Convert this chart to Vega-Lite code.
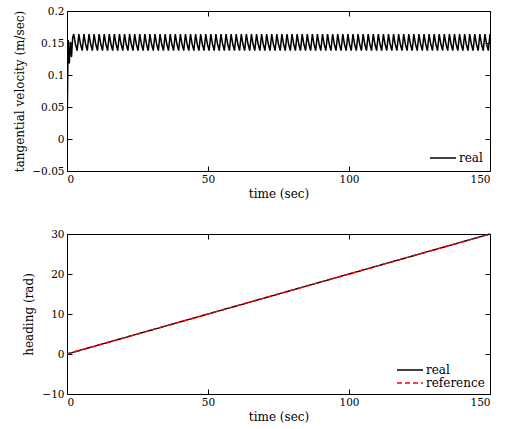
{
  "$schema": "https://vega.github.io/schema/vega-lite/v6.json",
  "background": "white",
  "padding": {"left": 13, "top": 5, "right": 5, "bottom": 5},
  "spacing": 28,
  "config": {
    "font": "DejaVu Serif",
    "view": {"stroke": "black", "strokeWidth": 1},
    "axis": {
      "grid": false,
      "domain": false,
      "tickSize": -5,
      "tickColor": "black",
      "tickWidth": 1,
      "labelFont": "DejaVu Serif",
      "labelFontSize": 10.5,
      "labelColor": "black",
      "labelPadding": 8,
      "titleFont": "DejaVu Serif",
      "titleFontSize": 12,
      "titleFontWeight": "normal",
      "titleColor": "black"
    },
    "legend": {
      "orient": "bottom-right",
      "symbolType": "stroke",
      "symbolSize": 676,
      "symbolStrokeWidth": 1.5,
      "clipHeight": 12,
      "labelFont": "DejaVu Serif",
      "labelFontSize": 12,
      "labelColor": "black",
      "labelOffset": 2,
      "rowPadding": 1,
      "padding": 0
    }
  },
  "vconcat": [
    {
      "width": 423,
      "height": 160,
      "data": {"values": [
        {"t":0,"v":0},{"t":0.4,"v":0.155},{"t":0.8,"v":0.118},{"t":1.2,"v":0.152},{"t":1.6,"v":0.128},{"t":2,"v":0.158},
        {"t":2.4,"v":0.164},{"t":3,"v":0.148},{"t":3.6,"v":0.138},{"t":4.2,"v":0.164},{"t":4.8,"v":0.148},{"t":5.4,"v":0.138},
        {"t":6,"v":0.164},{"t":6.6,"v":0.148},{"t":7.2,"v":0.138},{"t":7.8,"v":0.164},{"t":8.4,"v":0.148},{"t":9,"v":0.138},
        {"t":9.6,"v":0.164},{"t":10.2,"v":0.148},{"t":10.8,"v":0.138},{"t":11.4,"v":0.164},{"t":12,"v":0.148},{"t":12.6,"v":0.138},
        {"t":13.2,"v":0.164},{"t":13.8,"v":0.148},{"t":14.4,"v":0.138},{"t":15,"v":0.164},{"t":15.6,"v":0.148},{"t":16.2,"v":0.138},
        {"t":16.8,"v":0.164},{"t":17.4,"v":0.148},{"t":18,"v":0.138},{"t":18.6,"v":0.164},{"t":19.2,"v":0.148},{"t":19.8,"v":0.138},
        {"t":20.4,"v":0.164},{"t":21,"v":0.148},{"t":21.6,"v":0.138},{"t":22.2,"v":0.164},{"t":22.8,"v":0.148},{"t":23.4,"v":0.138},
        {"t":24,"v":0.164},{"t":24.6,"v":0.148},{"t":25.2,"v":0.138},{"t":25.8,"v":0.164},{"t":26.4,"v":0.148},{"t":27,"v":0.138},
        {"t":27.6,"v":0.164},{"t":28.2,"v":0.148},{"t":28.8,"v":0.138},{"t":29.4,"v":0.164},{"t":30,"v":0.148},{"t":30.6,"v":0.138},
        {"t":31.2,"v":0.164},{"t":31.8,"v":0.148},{"t":32.4,"v":0.138},{"t":33,"v":0.164},{"t":33.6,"v":0.148},{"t":34.2,"v":0.138},
        {"t":34.8,"v":0.164},{"t":35.4,"v":0.148},{"t":36,"v":0.138},{"t":36.6,"v":0.164},{"t":37.2,"v":0.148},{"t":37.8,"v":0.138},
        {"t":38.4,"v":0.164},{"t":39,"v":0.148},{"t":39.6,"v":0.138},{"t":40.2,"v":0.164},{"t":40.8,"v":0.148},{"t":41.4,"v":0.138},
        {"t":42,"v":0.164},{"t":42.6,"v":0.148},{"t":43.2,"v":0.138},{"t":43.8,"v":0.164},{"t":44.4,"v":0.148},{"t":45,"v":0.138},
        {"t":45.6,"v":0.164},{"t":46.2,"v":0.148},{"t":46.8,"v":0.138},{"t":47.4,"v":0.164},{"t":48,"v":0.148},{"t":48.6,"v":0.138},
        {"t":49.2,"v":0.164},{"t":49.8,"v":0.148},{"t":50.4,"v":0.138},{"t":51,"v":0.164},{"t":51.6,"v":0.148},{"t":52.2,"v":0.138},
        {"t":52.8,"v":0.164},{"t":53.4,"v":0.148},{"t":54,"v":0.138},{"t":54.6,"v":0.164},{"t":55.2,"v":0.148},{"t":55.8,"v":0.138},
        {"t":56.4,"v":0.164},{"t":57,"v":0.148},{"t":57.6,"v":0.138},{"t":58.2,"v":0.164},{"t":58.8,"v":0.148},{"t":59.4,"v":0.138},
        {"t":60,"v":0.164},{"t":60.6,"v":0.148},{"t":61.2,"v":0.138},{"t":61.8,"v":0.164},{"t":62.4,"v":0.148},{"t":63,"v":0.138},
        {"t":63.6,"v":0.164},{"t":64.2,"v":0.148},{"t":64.8,"v":0.138},{"t":65.4,"v":0.164},{"t":66,"v":0.148},{"t":66.6,"v":0.138},
        {"t":67.2,"v":0.164},{"t":67.8,"v":0.148},{"t":68.4,"v":0.138},{"t":69,"v":0.164},{"t":69.6,"v":0.148},{"t":70.2,"v":0.138},
        {"t":70.8,"v":0.164},{"t":71.4,"v":0.148},{"t":72,"v":0.138},{"t":72.6,"v":0.164},{"t":73.2,"v":0.148},{"t":73.8,"v":0.138},
        {"t":74.4,"v":0.164},{"t":75,"v":0.148},{"t":75.6,"v":0.138},{"t":76.2,"v":0.164},{"t":76.8,"v":0.148},{"t":77.4,"v":0.138},
        {"t":78,"v":0.164},{"t":78.6,"v":0.148},{"t":79.2,"v":0.138},{"t":79.8,"v":0.164},{"t":80.4,"v":0.148},{"t":81,"v":0.138},
        {"t":81.6,"v":0.164},{"t":82.2,"v":0.148},{"t":82.8,"v":0.138},{"t":83.4,"v":0.164},{"t":84,"v":0.148},{"t":84.6,"v":0.138},
        {"t":85.2,"v":0.164},{"t":85.8,"v":0.148},{"t":86.4,"v":0.138},{"t":87,"v":0.164},{"t":87.6,"v":0.148},{"t":88.2,"v":0.138},
        {"t":88.8,"v":0.164},{"t":89.4,"v":0.148},{"t":90,"v":0.138},{"t":90.6,"v":0.164},{"t":91.2,"v":0.148},{"t":91.8,"v":0.138},
        {"t":92.4,"v":0.164},{"t":93,"v":0.148},{"t":93.6,"v":0.138},{"t":94.2,"v":0.164},{"t":94.8,"v":0.148},{"t":95.4,"v":0.138},
        {"t":96,"v":0.164},{"t":96.6,"v":0.148},{"t":97.2,"v":0.138},{"t":97.8,"v":0.164},{"t":98.4,"v":0.148},{"t":99,"v":0.138},
        {"t":99.6,"v":0.164},{"t":100.2,"v":0.148},{"t":100.8,"v":0.138},{"t":101.4,"v":0.164},{"t":102,"v":0.148},{"t":102.6,"v":0.138},
        {"t":103.2,"v":0.164},{"t":103.8,"v":0.148},{"t":104.4,"v":0.138},{"t":105,"v":0.164},{"t":105.6,"v":0.148},{"t":106.2,"v":0.138},
        {"t":106.8,"v":0.164},{"t":107.4,"v":0.148},{"t":108,"v":0.138},{"t":108.6,"v":0.164},{"t":109.2,"v":0.148},{"t":109.8,"v":0.138},
        {"t":110.4,"v":0.164},{"t":111,"v":0.148},{"t":111.6,"v":0.138},{"t":112.2,"v":0.164},{"t":112.8,"v":0.148},{"t":113.4,"v":0.138},
        {"t":114,"v":0.164},{"t":114.6,"v":0.148},{"t":115.2,"v":0.138},{"t":115.8,"v":0.164},{"t":116.4,"v":0.148},{"t":117,"v":0.138},
        {"t":117.6,"v":0.164},{"t":118.2,"v":0.148},{"t":118.8,"v":0.138},{"t":119.4,"v":0.164},{"t":120,"v":0.148},{"t":120.6,"v":0.138},
        {"t":121.2,"v":0.164},{"t":121.8,"v":0.148},{"t":122.4,"v":0.138},{"t":123,"v":0.164},{"t":123.6,"v":0.148},{"t":124.2,"v":0.138},
        {"t":124.8,"v":0.164},{"t":125.4,"v":0.148},{"t":126,"v":0.138},{"t":126.6,"v":0.164},{"t":127.2,"v":0.148},{"t":127.8,"v":0.138},
        {"t":128.4,"v":0.164},{"t":129,"v":0.148},{"t":129.6,"v":0.138},{"t":130.2,"v":0.164},{"t":130.8,"v":0.148},{"t":131.4,"v":0.138},
        {"t":132,"v":0.164},{"t":132.6,"v":0.148},{"t":133.2,"v":0.138},{"t":133.8,"v":0.164},{"t":134.4,"v":0.148},{"t":135,"v":0.138},
        {"t":135.6,"v":0.164},{"t":136.2,"v":0.148},{"t":136.8,"v":0.138},{"t":137.4,"v":0.164},{"t":138,"v":0.148},{"t":138.6,"v":0.138},
        {"t":139.2,"v":0.164},{"t":139.8,"v":0.148},{"t":140.4,"v":0.138},{"t":141,"v":0.164},{"t":141.6,"v":0.148},{"t":142.2,"v":0.138},
        {"t":142.8,"v":0.164},{"t":143.4,"v":0.148},{"t":144,"v":0.138},{"t":144.6,"v":0.164},{"t":145.2,"v":0.148},{"t":145.8,"v":0.138},
        {"t":146.4,"v":0.164},{"t":147,"v":0.148},{"t":147.6,"v":0.138},{"t":148.2,"v":0.164},{"t":148.8,"v":0.148},{"t":149.4,"v":0.138},
        {"t":150,"v":0.164}
      ]},
      "layer": [
        {
          "mark": {"type": "line", "strokeWidth": 1.5, "clip": true},
          "encoding": {
            "x": {"field": "t", "type": "quantitative", "scale": {"domain": [0, 150], "nice": false},
                  "axis": {"title": "time (sec)", "values": [0, 50, 100, 150], "titlePadding": 4, "titleFontWeight": "normal"}},
            "y": {"field": "v", "type": "quantitative", "scale": {"domain": [-0.05, 0.2], "nice": false, "zero": false},
                  "axis": {"title": "tangential velocity (m/sec)", "values": [-0.05, 0, 0.05, 0.1, 0.15, 0.2], "format": ".2~f", "titlePadding": 5, "titleFontWeight": "normal"}},
            "color": {"datum": "real", "scale": {"domain": ["real"], "range": ["black"]}, "legend": {"title": null, "offset": 7}}
          }
        },
        {
          "mark": {"type": "line", "opacity": 0},
          "encoding": {
            "x": {"field": "t", "type": "quantitative", "scale": {"domain": [0, 150], "nice": false},
                  "axis": {"orient": "top", "labels": false, "title": null, "values": [0, 50, 100, 150]}},
            "y": {"field": "v", "type": "quantitative", "scale": {"domain": [-0.05, 0.2], "nice": false, "zero": false},
                  "axis": {"orient": "right", "labels": false, "title": null, "values": [-0.05, 0, 0.05, 0.1, 0.15, 0.2]}}
          }
        }
      ],
      "resolve": {"scale": {"x": "independent", "y": "independent"}, "axis": {"x": "independent", "y": "independent"}}
    },
    {
      "width": 423,
      "height": 160,
      "data": {"values": [
        {"t": 0, "h": 0, "s": "real"},
        {"t": 50, "h": 10, "s": "real"},
        {"t": 100, "h": 20, "s": "real"},
        {"t": 150, "h": 30, "s": "real"},
        {"t": 0, "h": 0, "s": "reference"},
        {"t": 50, "h": 10, "s": "reference"},
        {"t": 100, "h": 20, "s": "reference"},
        {"t": 150, "h": 30, "s": "reference"}
      ]},
      "layer": [
        {
          "mark": {"type": "line", "strokeWidth": 1.4},
          "encoding": {
            "x": {"field": "t", "type": "quantitative", "scale": {"domain": [0, 150], "nice": false},
                  "axis": {"title": "time (sec)", "values": [0, 50, 100, 150], "titlePadding": 4, "titleFontWeight": "normal"}},
            "y": {"field": "h", "type": "quantitative", "scale": {"domain": [-10, 30], "nice": false, "zero": false},
                  "axis": {"title": "heading (rad)", "values": [-10, 0, 10, 20, 30], "titlePadding": 6, "titleFontWeight": "normal"}},
            "color": {"field": "s", "type": "nominal", "scale": {"domain": ["real", "reference"], "range": ["black", "red"]}, "legend": {"title": null, "offset": 5}},
            "strokeDash": {"field": "s", "type": "nominal", "scale": {"domain": ["real", "reference"], "range": [[1, 0], [5, 3]]}, "legend": {"title": null, "offset": 5}}
          }
        },
        {
          "mark": {"type": "line", "opacity": 0},
          "encoding": {
            "x": {"field": "t", "type": "quantitative", "scale": {"domain": [0, 150], "nice": false},
                  "axis": {"orient": "top", "labels": false, "title": null, "values": [0, 50, 100, 150]}},
            "y": {"field": "h", "type": "quantitative", "scale": {"domain": [-10, 30], "nice": false, "zero": false},
                  "axis": {"orient": "right", "labels": false, "title": null, "values": [-10, 0, 10, 20, 30]}}
          }
        }
      ],
      "resolve": {"scale": {"x": "independent", "y": "independent"}, "axis": {"x": "independent", "y": "independent"}}
    }
  ],
  "resolve": {"scale": {"color": "independent", "strokeDash": "independent"}, "legend": {"color": "independent", "strokeDash": "independent"}}
}
